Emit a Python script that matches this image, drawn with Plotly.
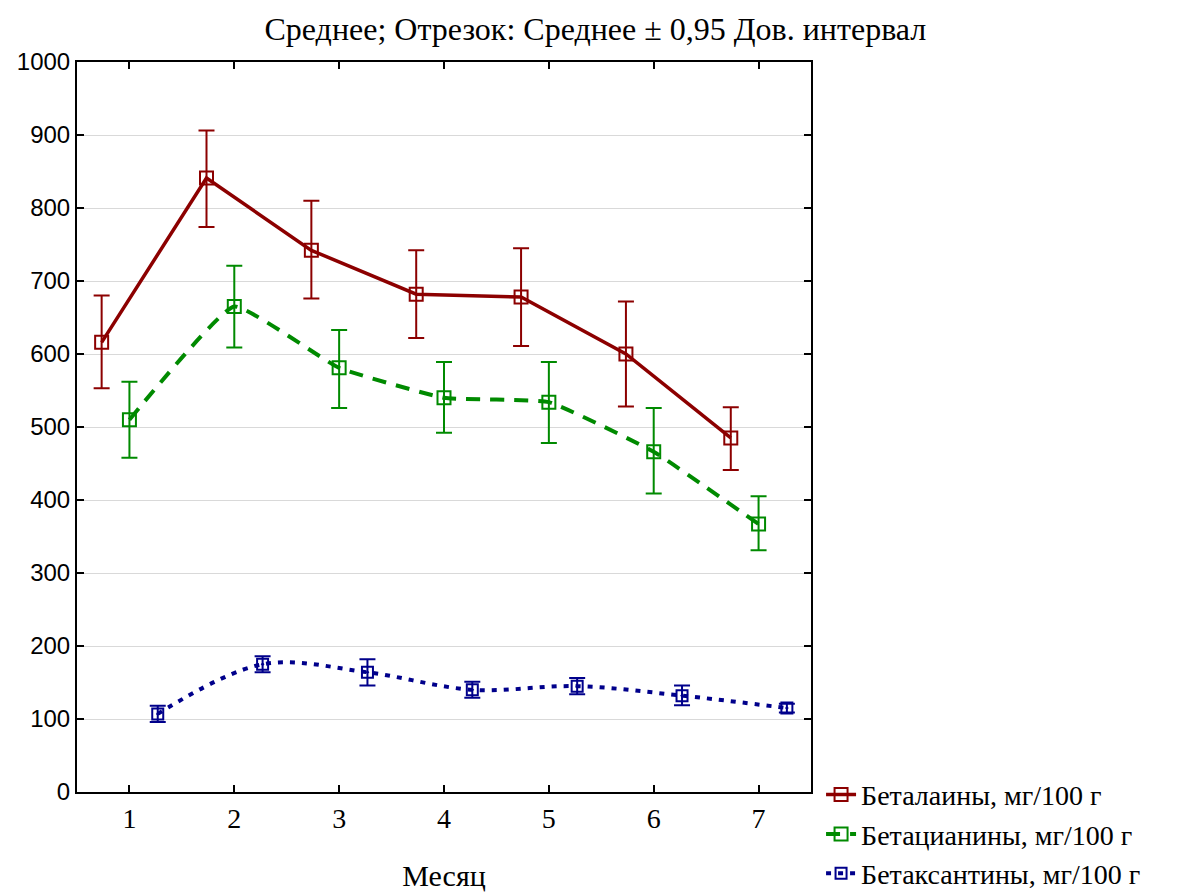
import plotly.graph_objects as go

months = [1, 2, 3, 4, 5, 6, 7]
month_labels = ["1", "2", "3", "4", "5", "6", "7"]

betalain_mean = [616, 841, 742, 682, 678, 600, 485]
betalain_hi = [680, 906, 810, 742, 745, 672, 527]
betalain_lo = [553, 774, 676, 622, 611, 528, 441]

betacyanin_mean = [510, 665, 581, 540, 534, 466, 367]
betacyanin_hi = [562, 721, 633, 589, 589, 526, 405]
betacyanin_lo = [458, 609, 526, 492, 478, 409, 331]

betaxanthin_mean = [107, 175, 164, 140, 145, 132, 115]
betaxanthin_hi = [118, 186, 182, 151, 156, 146, 121]
betaxanthin_lo = [96, 164, 146, 129, 134, 119, 109]

names = ["Беталаины, мг/100 г", "Бетацианины, мг/100 г", "Бетаксантины, мг/100 г"]

SERIF = "Liberation Serif, Times New Roman, serif"
SANS = "Liberation Sans, Arial, sans-serif"

series = [
    (betalain_mean, betalain_hi, betalain_lo, -0.265, "#8c0000", "solid", "linear", 0, "square-open", 3.5, 13),
    (betacyanin_mean, betacyanin_hi, betacyanin_lo, 0.0, "#008a00", "14px,10px", "spline", 0.35, "square-open", 4, 13),
    (betaxanthin_mean, betaxanthin_hi, betaxanthin_lo, 0.27, "#00008b", "5px,7px", "spline", 1.0, "square-open-dot", 4, 11),
]

fig = go.Figure()
for (mean, hi, lo, off, col, dash, shape, smooth, sym, lw, ms), name in zip(series, names):
    line = dict(color=col, width=lw, dash=dash, shape=shape)
    if shape == "spline":
        line["smoothing"] = smooth
    fig.add_trace(go.Scatter(
        x=[m + off for m in months],
        y=mean,
        name=name,
        mode="lines+markers",
        line=line,
        marker=dict(symbol=sym, size=ms, color=col, line=dict(color=col, width=2)),
        error_y=dict(
            type="data", symmetric=False,
            array=[h - m for h, m in zip(hi, mean)],
            arrayminus=[m - l for m, l in zip(mean, lo)],
            color=col, thickness=2, width=8,
        ),
    ))

fig.update_layout(
    width=1179, height=892,
    margin=dict(l=77, r=368, t=62, b=100),
    paper_bgcolor="white", plot_bgcolor="white",
    title=dict(text="Среднее; Отрезок: Среднее ± 0,95 Дов. интервал",
               x=0.505, xanchor="center", y=0.968, yanchor="middle",
               font=dict(family=SERIF, size=32, color="black")),
    legend=dict(xref="container", yref="container",
                x=0.6964, xanchor="left", y=0.137, yanchor="top",
                font=dict(family=SERIF, size=28, color="black"),
                bgcolor="rgba(0,0,0,0)", tracegroupgap=0, itemwidth=30),
    showlegend=True,
)
fig.update_xaxes(
    range=[0.5, 7.5], tickvals=months, ticktext=month_labels,
    ticks="inside", ticklen=7, tickwidth=2, tickcolor="black",
    showline=True, linecolor="black", linewidth=2, mirror="ticks",
    showgrid=False, zeroline=False, automargin=False,
    tickfont=dict(family=SERIF, size=28, color="black"),
    title=dict(text="Месяц", font=dict(family=SERIF, size=30, color="black"), standoff=36),
)
fig.update_yaxes(
    range=[0, 1000], dtick=100, automargin=False,
    ticks="inside", ticklen=7, tickwidth=2, tickcolor="black",
    showline=True, linecolor="black", linewidth=2, mirror="ticks",
    showgrid=True, gridcolor="#d9d9d9", gridwidth=1, zeroline=False,
    tickfont=dict(family=SANS, size=24, color="black"),
)

fig.write_html("out.html")
